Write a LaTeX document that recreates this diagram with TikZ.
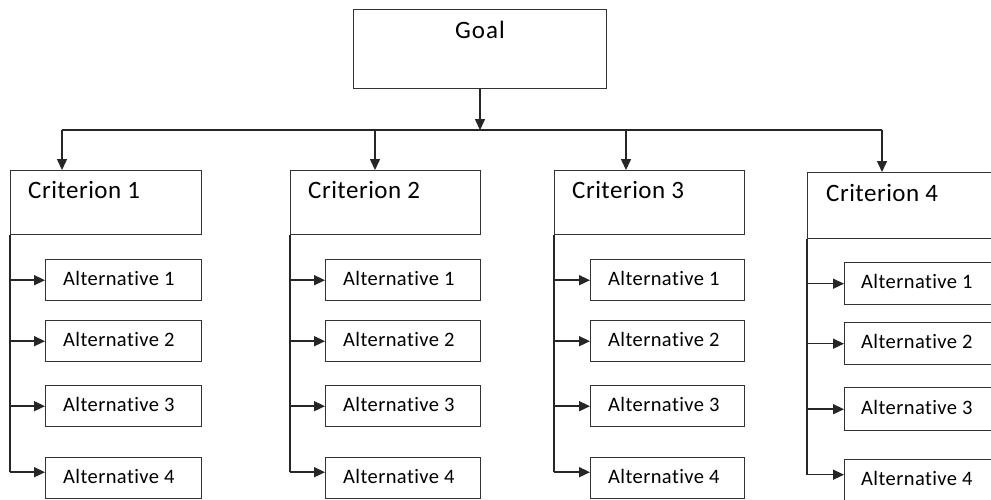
\documentclass[tikz,border=0pt]{standalone}
\usepackage{fontspec}
\setmainfont[Ligatures={NoCommon}]{Carlito}
\usetikzlibrary{arrows.meta}
\begin{document}
\begin{tikzpicture}[x=1pt,y=-1pt,
  line/.style={draw=black!85, line width=1.5pt},
  arr/.style={line, -{Triangle[length=11pt,width=10pt]}},
  box/.style={draw=black!80, line width=1.4pt, anchor=north west, inner sep=0pt},
  crittext/.style={anchor=west, inner sep=0pt, font=\fontsize{25}{29}\selectfont\addfontfeatures{LetterSpace=2}},
  alttext/.style={anchor=west, inner sep=0pt, font=\fontsize{20.5}{24}\selectfont\addfontfeatures{LetterSpace=2}},
]
\clip (0,0) rectangle (991,499);
\fill[white] (0,0) rectangle (991,499);

% Goal
\node[box, minimum width=253pt, minimum height=79pt] (g) at (353,9) {};
\node[anchor=center, inner sep=0pt, font=\fontsize{25}{29}\selectfont\addfontfeatures{LetterSpace=4}] (gt) at (480,30) {Goal};

% horizontal distribution line
\coordinate (h1) at (62,130);
\coordinate (h2) at (375,130);
\coordinate (h3) at (626,130);
\coordinate (h4) at (882,130);
\coordinate (hg) at (480,130);
\draw[arr] (g.south -| hg) -- (hg);
\draw[line] (h1) -- (h4);

% Criteria boxes
\node[box, minimum width=191pt, minimum height=64pt] (c1) at (10,170) {};
\node[box, minimum width=190pt, minimum height=64pt] (c2) at (290,170) {};
\node[box, minimum width=190pt, minimum height=64pt] (c3) at (554,170) {};
\node[box, minimum width=203pt, minimum height=66pt] (c4) at (807,172) {};
\node[crittext] (c1t) at ([shift={(18,20)}]c1.north west) {Criterion 1};
\node[crittext] (c2t) at ([shift={(18,20)}]c2.north west) {Criterion 2};
\node[crittext] (c3t) at ([shift={(18,20)}]c3.north west) {Criterion 3};
\node[crittext] (c4t) at ([shift={(19,21)}]c4.north west) {Criterion 4};

\foreach \i in {1,2,3,4} {
  \draw[arr] (h\i) -- (h\i |- c\i.north);
}

% Alternatives columns 1-3
\foreach \c/\ax/\aw in {1/45/156, 2/325/155, 3/590/154} {
  \foreach \a/\ay in {1/259, 2/320, 3/385, 4/457} {
    \node[box, minimum width=\aw pt, minimum height=41pt] (a\c\a) at (\ax,\ay) {};
    \node[alttext] (a\c\a t) at ([shift={(18,-2)}]a\c\a.west) {Alternative \a};
  }
}
% Column 4
\foreach \a/\ay/\ah in {1/262/42, 2/322/42, 3/387/43, 4/459/42} {
  \node[box, minimum width=166pt, minimum height=\ah pt] (a4\a) at (844,\ay) {};
  \node[alttext] (a4\a t) at ([shift={(17,-2)}]a4\a.west) {Alternative \a};
}

% vertical feeder lines and arrows
\foreach \c in {1,2,3,4} {
  \coordinate (e\c) at ([yshift=6pt]c\c.south west |- a\c4.west);
  \draw[line] (c\c.south west) -- (e\c);
  \foreach \a in {1,2,3} {
    \draw[arr] (c\c.south west |- a\c\a.west) -- (a\c\a.west);
  }
  \draw[arr] (e\c) -- (e\c -| a\c4.west);
}
\end{tikzpicture}
\end{document}
